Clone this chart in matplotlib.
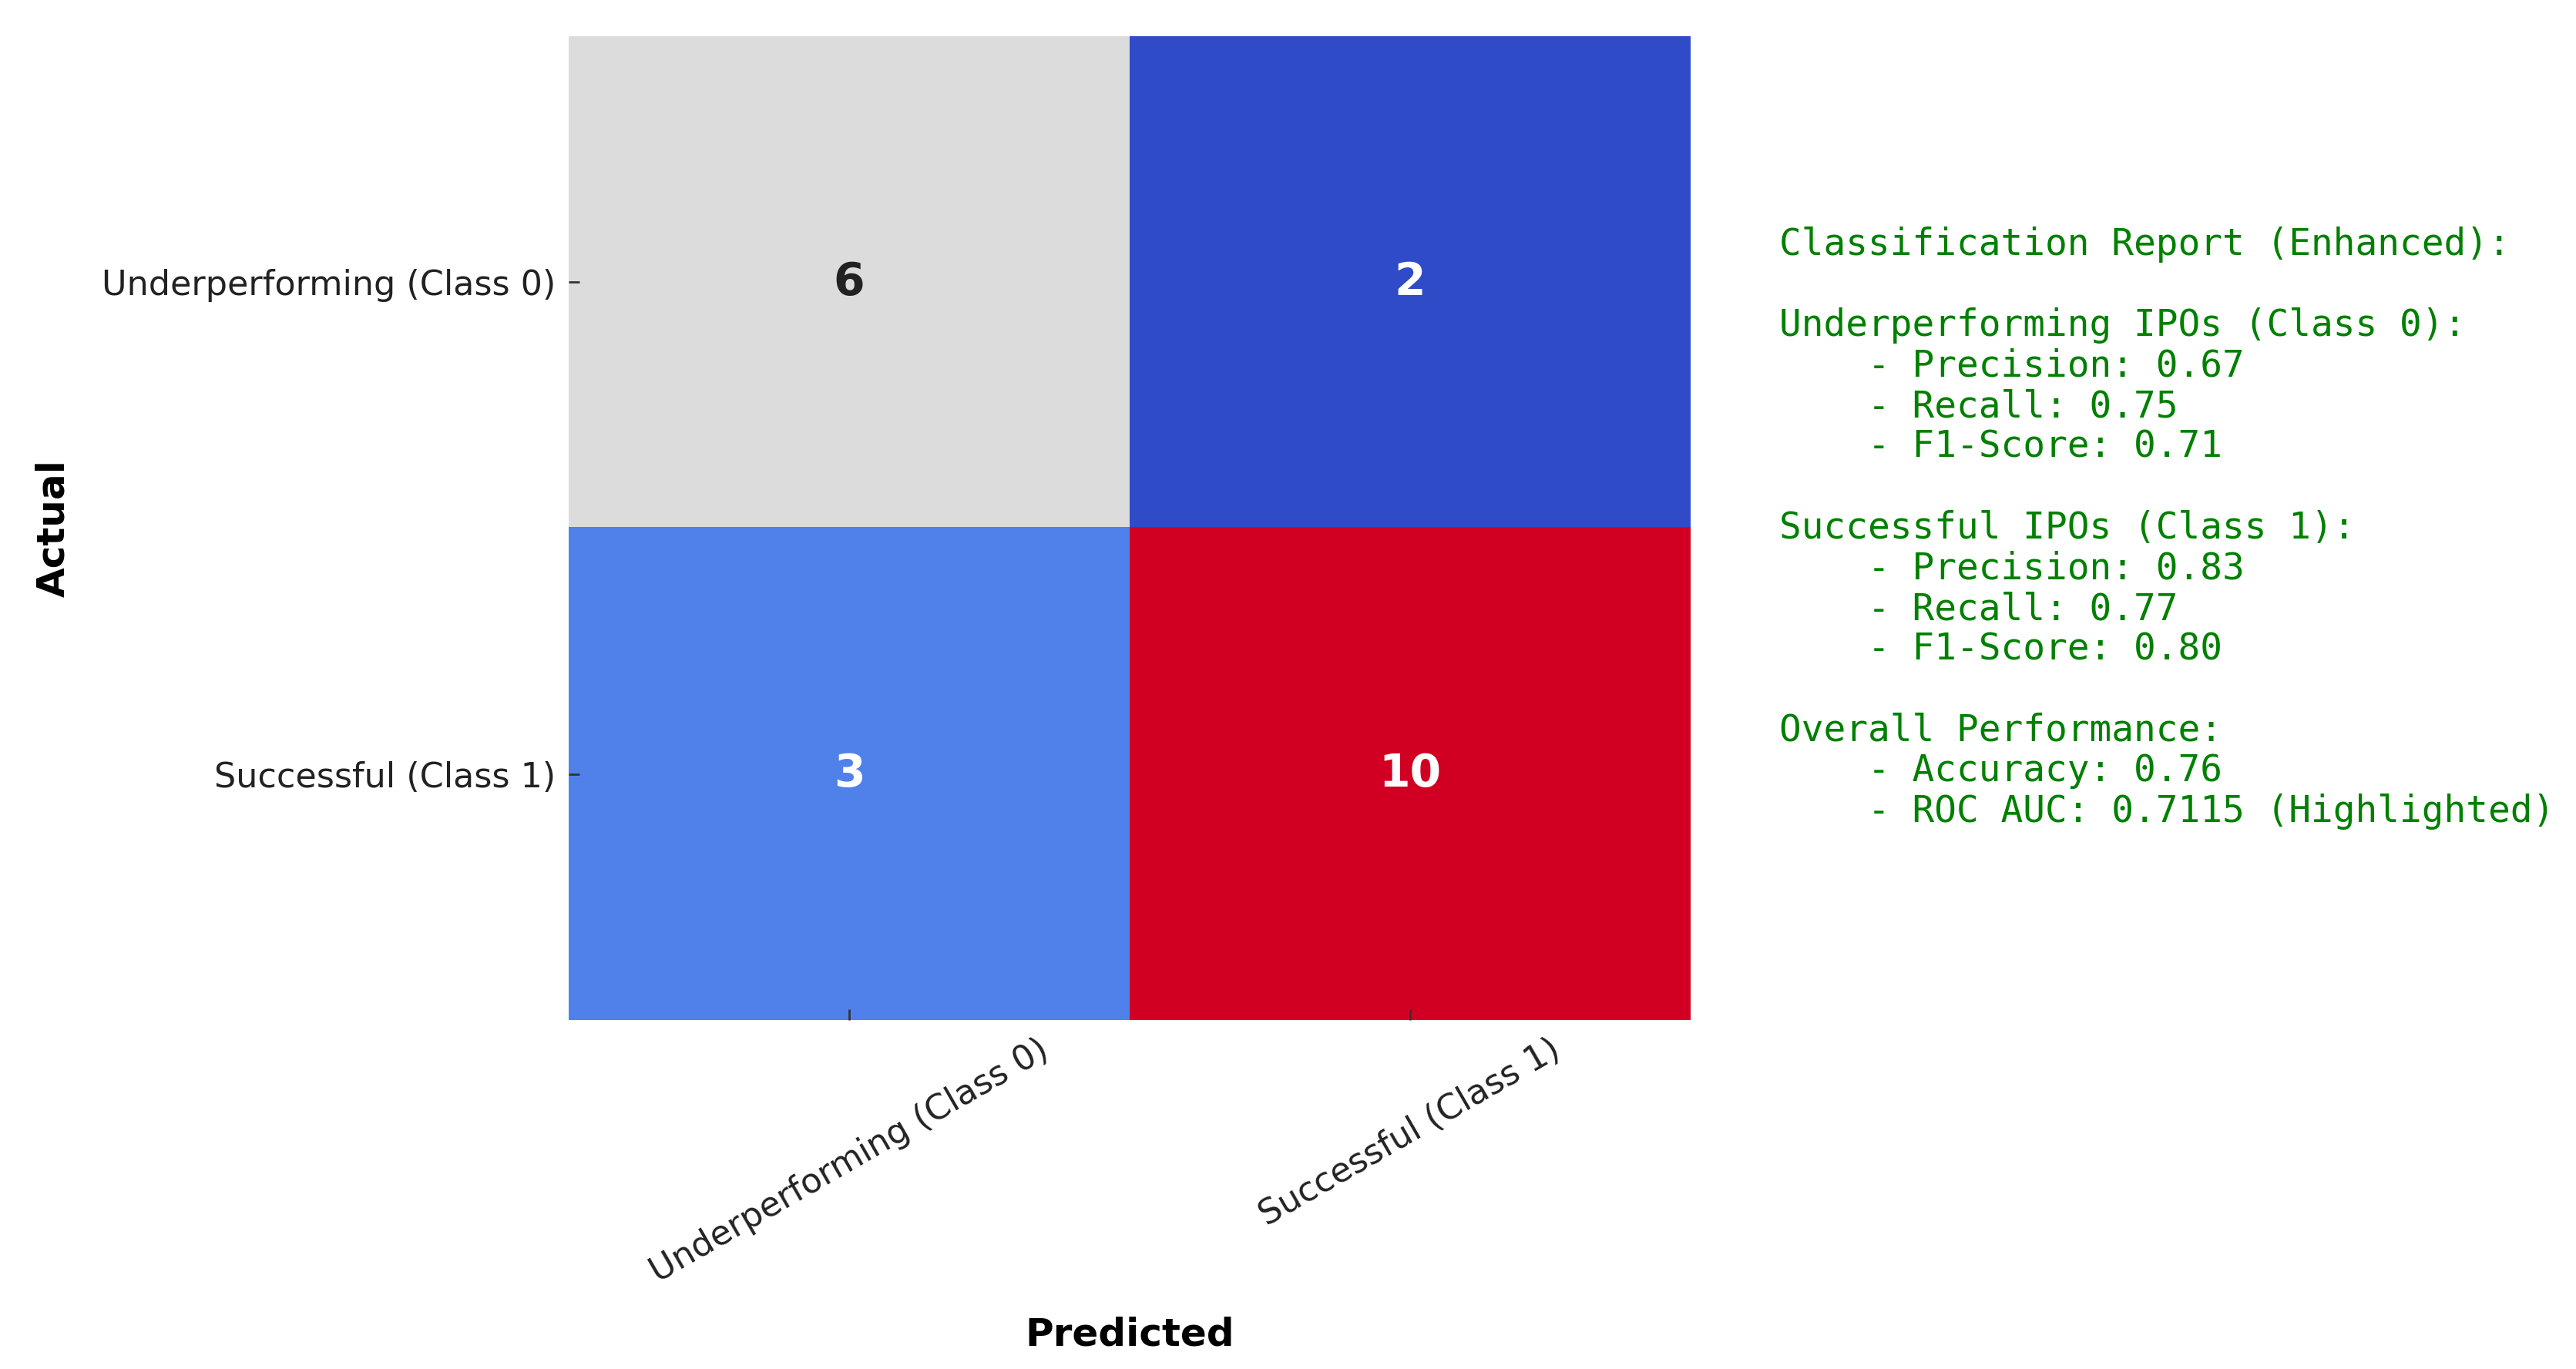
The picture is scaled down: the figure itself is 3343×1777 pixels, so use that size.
import numpy as np
import matplotlib
matplotlib.use("Agg")
import matplotlib.pyplot as plt
from matplotlib.colors import LinearSegmentedColormap

# Confusion matrix values (rows = actual, cols = predicted)
class_labels = ["Underperforming (Class 0)", "Successful (Class 1)"]
cm_row0 = [6, 2]
cm_row1 = [3, 10]

# Report metrics
prec = [0.67, 0.83]
rec = [0.75, 0.77]
f1 = [0.71, 0.80]
accuracy = 0.76
roc_auc = 0.7115

cm = np.array([cm_row0, cm_row1])

# Colormap (blue -> gray -> red)
cmap = LinearSegmentedColormap.from_list(
    "cm_cmap",
    [(0.0, "#2f4bc7"), (0.125, "#5081ec"), (0.5, "#dddddd"), (1.0, "#d10023")],
)

fig = plt.figure(figsize=(16.715, 8.885), dpi=200)
ax = fig.add_axes([0.2208, 0.2549, 0.4355, 0.7187])

ax.imshow(cm, cmap=cmap, vmin=cm.min(), vmax=cm.max(), aspect="auto")

for i in range(cm.shape[0]):
    for j in range(cm.shape[1]):
        val = cm[i, j]
        color = "#222222" if val == 6 else "white"
        ax.text(j, i, str(val), ha="center", va="center",
                fontsize=21, fontweight="bold", color=color)

ax.set_xticks(range(len(class_labels)))
ax.set_yticks(range(len(class_labels)))
ax.set_xticklabels(class_labels, rotation=30, ha="center", fontsize=16)
ax.set_yticklabels(class_labels, fontsize=16)
ax.tick_params(axis="both", direction="in", length=5, width=1, colors="#333333",
               pad=6, labelcolor="#222222")
for sp in ax.spines.values():
    sp.set_visible(False)

ax.set_xlabel("Predicted", fontsize=18, fontweight="bold", labelpad=13)
ax.set_ylabel("Actual", fontsize=18, fontweight="bold", labelpad=14)

report = (
    "Classification Report (Enhanced):\n"
    "\n"
    "Underperforming IPOs (Class 0):\n"
    f"    - Precision: {prec[0]:.2f}\n"
    f"    - Recall: {rec[0]:.2f}\n"
    f"    - F1-Score: {f1[0]:.2f}\n"
    "\n"
    "Successful IPOs (Class 1):\n"
    f"    - Precision: {prec[1]:.2f}\n"
    f"    - Recall: {rec[1]:.2f}\n"
    f"    - F1-Score: {f1[1]:.2f}\n"
    "\n"
    "Overall Performance:\n"
    f"    - Accuracy: {accuracy:.2f}\n"
    f"    - ROC AUC: {roc_auc:.4f} (Highlighted)"
)
fig.text(0.6907, 0.8345, report, ha="left", va="top", fontsize=17.2,
         family="DejaVu Sans Mono", color="green", linespacing=1.15)

fig.savefig("out.png", dpi=200)
